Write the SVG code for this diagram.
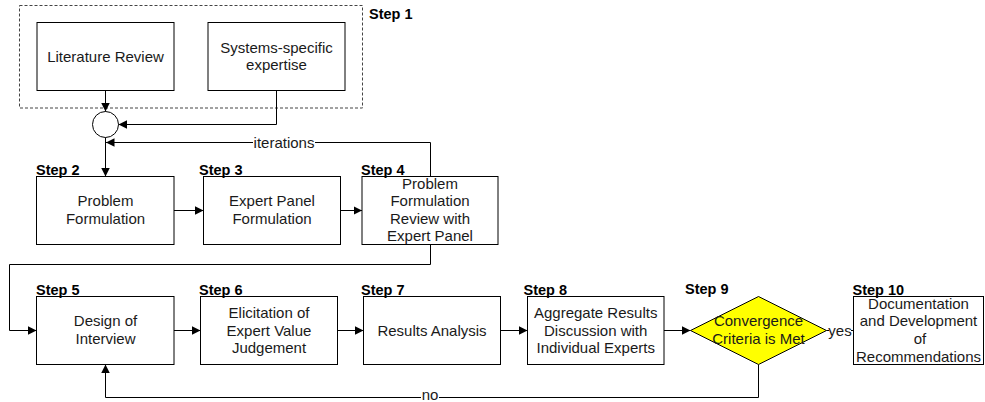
<svg xmlns="http://www.w3.org/2000/svg" width="985" height="402" viewBox="0 0 985 402">
<defs>
<marker id="arr" viewBox="0 0 10 10" refX="10" refY="5" markerWidth="8.5" markerHeight="8.5" markerUnits="userSpaceOnUse" orient="auto">
<path d="M0,0 L10,5 L0,10 z" fill="#000"/>
</marker>
</defs>
<style>
.box{fill:#fff;stroke:#000;stroke-width:1}
.t{font-family:"Liberation Sans",Arial,sans-serif;font-size:15px;fill:#1a1a1a;text-anchor:middle}
.s{font-family:"Liberation Sans",Arial,sans-serif;font-size:14.5px;font-weight:bold;fill:#000}
.c{fill:none;stroke:#000;stroke-width:1}
.lbl{font-family:"Liberation Sans",Arial,sans-serif;font-size:15px;fill:#1a1a1a;text-anchor:middle}
</style>
<rect width="985" height="402" fill="#fff"/>

<g id="step1">
<rect x="19.5" y="5.5" width="343" height="102.5" fill="none" stroke="#444" stroke-width="1" stroke-dasharray="3,2"/>
<text class="s" x="369" y="19">Step 1</text>
</g>
<g id="lit">
<rect class="box" x="37" y="22.5" width="137" height="68"/>
<text class="t" x="105.5" y="61.5">Literature Review</text>
</g>
<g id="sys">
<rect class="box" x="208" y="22.5" width="137" height="68"/>
<text class="t" x="276.5" y="52.5">Systems-specific</text>
<text class="t" x="276.5" y="70">expertise</text>
</g>
<g id="junction">
<circle cx="105.5" cy="124.5" r="13" fill="#fff" stroke="#000" stroke-width="1"/>
</g>

<g id="connectors">
<path class="c" d="M105.5,90.5 V111.5" marker-end="url(#arr)"/>
<path class="c" d="M276.5,90.5 V124.5 H118.5" marker-end="url(#arr)"/>
<path class="c" d="M105.5,137.5 V176.5" marker-end="url(#arr)"/>
<path class="c" d="M430.5,176.5 V142.5 H106" marker-end="url(#arr)"/>
<path class="c" d="M174,210.5 H203.5" marker-end="url(#arr)"/>
<path class="c" d="M340.5,210.5 H362" marker-end="url(#arr)"/>
<path class="c" d="M430.5,244.5 V264.5 H9.5 V330.5 H36.5" marker-end="url(#arr)"/>
<path class="c" d="M174,330.5 H200.5" marker-end="url(#arr)"/>
<path class="c" d="M337.5,330.5 H363.5" marker-end="url(#arr)"/>
<path class="c" d="M500.5,330.5 H527.5" marker-end="url(#arr)"/>
<path class="c" d="M664,330.5 H690.5" marker-end="url(#arr)"/>
<path class="c" d="M826.5,330.5 H853.5"/>
<path class="c" d="M758.5,364.5 V397.5 H105.5 V364.5" marker-end="url(#arr)"/>
<rect x="253" y="135" width="62" height="15" fill="#fff"/>
<text class="lbl" x="284" y="147.5">iterations</text>
<rect x="829" y="323" width="22" height="15" fill="#fff"/>
<text class="lbl" x="840" y="335.5">yes</text>
<rect x="421" y="390" width="18" height="12" fill="#fff"/>
<text class="lbl" x="430" y="400">no</text>
</g>

<g id="step2">
<rect class="box" x="36.5" y="176.5" width="137.5" height="68"/>
<text class="s" x="36" y="174.5">Step 2</text>
<text class="t" x="105.5" y="206">Problem</text>
<text class="t" x="105.5" y="224">Formulation</text>
</g>
<g id="step3">
<rect class="box" x="203.5" y="176.5" width="137" height="68"/>
<text class="s" x="199" y="174.5">Step 3</text>
<text class="t" x="272" y="206">Expert Panel</text>
<text class="t" x="272" y="224">Formulation</text>
</g>
<g id="step4">
<rect class="box" x="362" y="176.5" width="136" height="68"/>
<text class="s" x="361" y="174.5">Step 4</text>
<text class="t" x="430" y="188.5">Problem</text>
<text class="t" x="430" y="206">Formulation</text>
<text class="t" x="430" y="223.5">Review with</text>
<text class="t" x="430" y="241">Expert Panel</text>
</g>
<g id="step5">
<rect class="box" x="36.5" y="296.5" width="137.5" height="68"/>
<text class="s" x="36" y="294.5">Step 5</text>
<text class="t" x="105.5" y="326">Design of</text>
<text class="t" x="105.5" y="344">Interview</text>
</g>
<g id="step6">
<rect class="box" x="200.5" y="296.5" width="137" height="68"/>
<text class="s" x="199" y="294.5">Step 6</text>
<text class="t" x="269" y="317.5">Elicitation of</text>
<text class="t" x="269" y="335.5">Expert Value</text>
<text class="t" x="269" y="353">Judgement</text>
</g>
<g id="step7">
<rect class="box" x="363.5" y="296.5" width="137" height="68"/>
<text class="s" x="361" y="294.5">Step 7</text>
<text class="t" x="432" y="335.5">Results Analysis</text>
</g>
<g id="step8">
<rect class="box" x="527.5" y="296.5" width="136.5" height="68"/>
<text class="s" x="523.5" y="294.5">Step 8</text>
<text class="t" x="595.7" y="317.5">Aggregate Results</text>
<text class="t" x="595.7" y="335.5">Discussion with</text>
<text class="t" x="595.7" y="353">Individual Experts</text>
</g>
<g id="step9">
<path d="M690.5,330.5 L758.5,296.5 L826.5,330.5 L758.5,364.5 z" fill="#ffff00" stroke="#000" stroke-width="1"/>
<text class="s" x="685" y="294">Step 9</text>
<text class="t" x="758.5" y="326">Convergence</text>
<text class="t" x="758.5" y="343.5">Criteria is Met</text>
</g>
<g id="step10">
<rect class="box" x="853.5" y="296.5" width="130" height="68"/>
<text class="s" x="852.5" y="294.5">Step 10</text>
<text class="t" x="918.5" y="309">Documentation</text>
<text class="t" x="918.5" y="326">and Development</text>
<text class="t" x="920" y="344">of</text>
<text class="t" x="918.5" y="361.5">Recommendations</text>
</g>
</svg>
